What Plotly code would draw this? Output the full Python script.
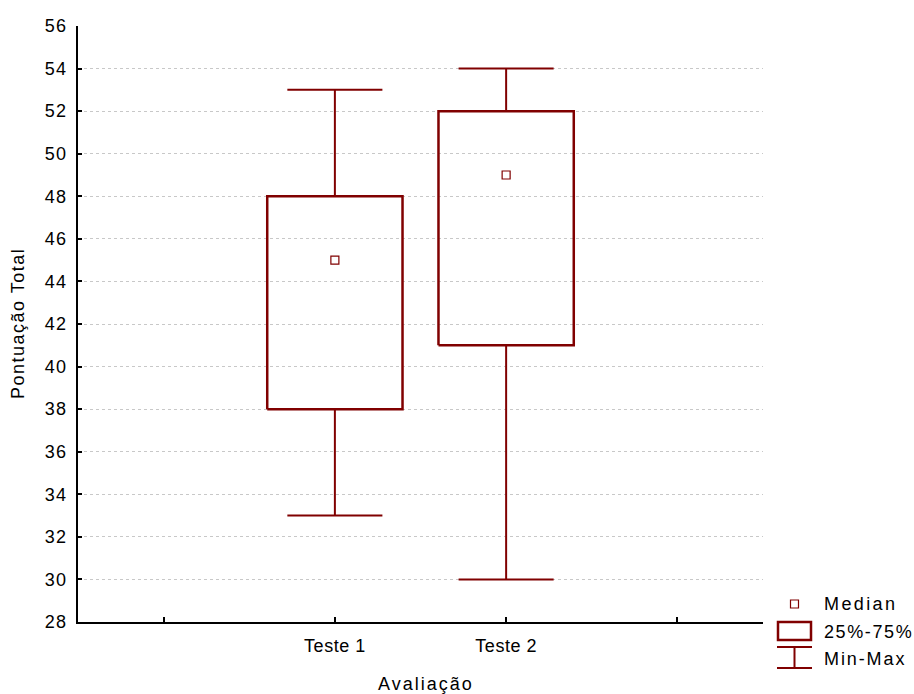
import plotly.graph_objects as go

# ---- data ----
categories = ["Teste 1", "Teste 2"]
positions = [1, 2]
minimum = [33, 30]
q1 = [38, 41]
median = [45, 49]
q3 = [48, 52]
maximum = [53, 54]
x_tickvals = [0, 1, 2, 3]
x_ticklabels = ["", "Teste 1", "Teste 2", ""]
y_ticks = list(range(28, 57, 2))
x_title = "Avaliação"
y_title = "Pontuação Total"
legend_labels = ["Median", "25%-75%", "Min-Max"]

COLOR = "#800000"
FONT = "Arial, Liberation Sans, sans-serif"
FS = 18
BOX_W = 0.79
CAP_W = 0.555


def spaced(t, ls):
    if not t:
        return t
    return f'<span style="letter-spacing:{ls}px">{t}</span>'


fig = go.Figure()

for i, c in enumerate(categories):
    p = positions[i]
    fig.add_trace(go.Scatter(
        x=[p - BOX_W / 2, p + BOX_W / 2, p + BOX_W / 2, p - BOX_W / 2, p - BOX_W / 2],
        y=[q1[i], q1[i], q3[i], q3[i], q1[i]],
        mode="lines", line=dict(color=COLOR, width=2.5),
        showlegend=False, hoverinfo="skip"))
    fig.add_trace(go.Scatter(
        x=[p, p, None, p, p, None,
           p - CAP_W / 2, p + CAP_W / 2, None, p - CAP_W / 2, p + CAP_W / 2],
        y=[q3[i], maximum[i], None, q1[i], minimum[i], None,
           maximum[i], maximum[i], None, minimum[i], minimum[i]],
        mode="lines", line=dict(color=COLOR, width=2),
        showlegend=False, hoverinfo="skip"))
    fig.add_trace(go.Scatter(
        x=[p], y=[median[i]], mode="markers",
        marker=dict(symbol="square-open", size=8, color=COLOR, line=dict(width=1.2)),
        showlegend=False, name=c))

PL, PR, PT, PB = 78, 763, 26, 622


def px(xp):
    return (xp - PL) / (PR - PL)


def py(yp):
    return (PB - yp) / (PB - PT)


shapes = [
    dict(type="rect", xref="paper", yref="paper", x0=px(790.5), x1=px(798.5),
         y0=py(608), y1=py(600), line=dict(color=COLOR, width=1.2)),
    dict(type="rect", xref="paper", yref="paper", x0=px(778), x1=px(811),
         y0=py(640), y1=py(622), line=dict(color=COLOR, width=2.5)),
    dict(type="line", xref="paper", yref="paper", x0=px(777), x1=px(812),
         y0=py(647), y1=py(647), line=dict(color=COLOR, width=2)),
    dict(type="line", xref="paper", yref="paper", x0=px(777), x1=px(812),
         y0=py(668), y1=py(668), line=dict(color=COLOR, width=2)),
    dict(type="line", xref="paper", yref="paper", x0=px(794.5), x1=px(794.5),
         y0=py(647), y1=py(668), line=dict(color=COLOR, width=2)),
]
legend_ys = [604, 632, 659]
legend_ls = [2.4, 1.6, 1.9]
annotations = [
    dict(text=spaced(t, ls), xref="paper", yref="paper", x=px(822), y=py(yy),
         xanchor="left", yanchor="middle", showarrow=False,
         font=dict(family=FONT, size=FS, color="black"))
    for t, yy, ls in zip(legend_labels, legend_ys, legend_ls)
]
annotations.append(dict(
    text=spaced(x_title, 2.0), xref="paper", yref="paper", x=px(426), y=py(684),
    xanchor="center", yanchor="middle", showarrow=False,
    font=dict(family=FONT, size=FS, color="black")))
annotations.append(dict(
    text=spaced(y_title, 1.5), xref="paper", yref="paper", x=px(18), y=py(324),
    xanchor="center", yanchor="middle", textangle=-90, showarrow=False,
    font=dict(family=FONT, size=FS, color="black")))

fig.update_layout(
    width=914, height=694,
    margin=dict(l=PL, r=914 - PR, t=PT, b=694 - PB),
    paper_bgcolor="white", plot_bgcolor="white",
    font=dict(family=FONT, size=FS, color="black"),
    shapes=shapes, annotations=annotations,
    showlegend=False,
    xaxis=dict(
        range=[-0.5, 3.5], tickvals=x_tickvals,
        ticktext=[spaced(t, 0.5) for t in x_ticklabels],
        ticks="inside", ticklen=5, tickwidth=2, tickcolor="black",
        showline=True, linecolor="black", linewidth=2,
        showgrid=False, zeroline=False,
        ticklabelstandoff=6, tickfont=dict(size=FS),
    ),
    yaxis=dict(
        range=[28, 56], tickvals=y_ticks,
        ticktext=[spaced(str(v), 1.3) for v in y_ticks],
        ticks="inside", ticklen=4, tickwidth=2, tickcolor="black",
        showline=True, linecolor="black", linewidth=2,
        showgrid=True, gridcolor="#c8c8c8", griddash="dot", gridwidth=1,
        zeroline=False, ticklabelstandoff=5, tickfont=dict(size=FS),
    ),
)

fig.write_html("out.html", config={"displayModeBar": False},
               post_script="document.body.style.margin='0';")
